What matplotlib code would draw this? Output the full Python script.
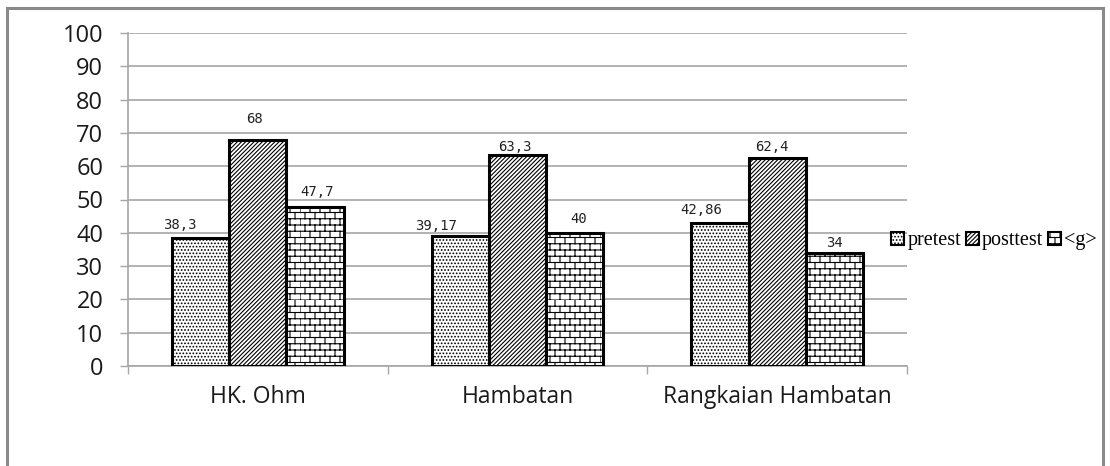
import numpy as np
import matplotlib
matplotlib.use("Agg")
import matplotlib.pyplot as plt
import matplotlib.hatch as mhatch
from matplotlib.patches import Rectangle
from matplotlib.path import Path

# ---- data ----
categories = ["HK. Ohm", "Hambatan", "Rangkaian Hambatan"]
series_names = ["pretest", "posttest", "<g>"]
pretest = [38.3, 39.17, 42.86]
posttest = [68, 63.3, 62.4]
gain = [47.7, 40, 34]
value_labels = [["38,3", "39,17", "42,86"],
                ["68", "63,3", "62,4"],
                ["47,7", "40", "34"]]
y_ticks = list(range(0, 101, 10))


# ---- brick hatch (takes the place of the star pattern '*') ----
class BrickHatch(mhatch.HatchPatternBase):
    def __init__(self, hatch, density):
        n = hatch.count('*')
        self.rows = 16 * n
        self.cols = 10 * n
        self.num_vertices = self.rows * (2 + 2 * self.cols) if n else 0

    def set_vertices_and_codes(self, vertices, codes):
        k = 0
        h = 1.0 / self.rows
        for i in range(self.rows):
            y = i * h
            vertices[k] = (0.0, y)
            vertices[k + 1] = (1.0, y)
            codes[k] = Path.MOVETO
            codes[k + 1] = Path.LINETO
            k += 2
            shift = 0.5 * (i % 2)
            for j in range(self.cols):
                x = (j + shift) / self.cols
                vertices[k] = (x, y)
                vertices[k + 1] = (x, y + h)
                codes[k] = Path.MOVETO
                codes[k + 1] = Path.LINETO
                k += 2


mhatch._hatch_types = [t for t in mhatch._hatch_types
                       if t is not mhatch.Stars] + [BrickHatch]

plt.rcParams['hatch.linewidth'] = 0.8

W, H = 1110, 466
fig = plt.figure(figsize=(W / 100, H / 100), dpi=100)
fig.patch.set_facecolor("white")

# outer chart frame
fig.patches.append(Rectangle((7 / W, -0.05), (1103 - 7) / W, 1.05 - 8 / H,
                             transform=fig.transFigure, fill=False,
                             edgecolor="#8a8a8a", linewidth=2.2, zorder=0))

ax = fig.add_axes([128 / W, 1 - 366 / H, (907 - 128) / W, (366 - 33) / H])

grid_c = "#a6a6a6"
text_c = "#1a1a1a"
hatches = [".....", "////////", "*"]
values = [pretest, posttest, gain]
bw = 0.22
centers = np.arange(len(categories)) + 0.5

# label offsets (px) from each bar's top centre
label_off = [[(-21, 13), (-24, 10), (-19, 13)],
             [(-3, 21), (-3, 8), (-5, 11)],
             [(2, 15), (4, 14), (0, 10)]]

handles = []
for s, (vals, hatch, name) in enumerate(zip(values, hatches, series_names)):
    xs = centers + (s - 1) * bw
    bars = ax.bar(xs, vals, width=bw, color="white", edgecolor="black",
                  linewidth=2.2, hatch=hatch, zorder=3, label=name)
    handles.append(bars)
    for i, (x, v) in enumerate(zip(xs, vals)):
        dx, dy = label_off[s][i]
        ax.annotate(value_labels[s][i], (x, v),
                    xytext=(dx * 0.72, dy * 0.72), textcoords="offset points",
                    ha="center", va="center", fontsize=10,
                    family="DejaVu Sans Mono", color="#222222", zorder=4)

ax.set_xlim(0, 3)
ax.set_ylim(0, 100)
ax.set_yticks(y_ticks)
ax.set_yticklabels([str(t) for t in y_ticks], family="Open Sans", fontsize=17,
                   color=text_c)
ax.yaxis.grid(True, color=grid_c, linewidth=1.2, zorder=0)
ax.set_axisbelow(True)
ax.tick_params(axis="y", length=5.8, color=grid_c, width=1.0, pad=12)

ax.set_xticks([0, 1, 2, 3])
ax.set_xticklabels([])
ax.tick_params(axis="x", which="major", length=5.8, color=grid_c, width=1.0)
ax.set_xticks(centers, minor=True)
ax.set_xticklabels(categories, minor=True, family="Open Sans", fontsize=16.5,
                   color=text_c)
ax.tick_params(axis="x", which="minor", length=0, pad=14)

for side in ("top", "right"):
    ax.spines[side].set_visible(False)
for side in ("left", "bottom"):
    ax.spines[side].set_color(grid_c)
    ax.spines[side].set_linewidth(1.2)

leg = fig.legend(handles=handles, labels=series_names, ncol=3,
                 loc="center left", bbox_to_anchor=(881 / W, 1 - 241 / H),
                 frameon=False, borderpad=0, handlelength=0.65,
                 handleheight=0.65, handletextpad=0.15, columnspacing=0.25,
                 prop={"family": "Liberation Serif", "size": 14.5})
for p in leg.get_patches():
    p.set_linewidth(1.5)

fig.savefig("out.png", dpi=100)
